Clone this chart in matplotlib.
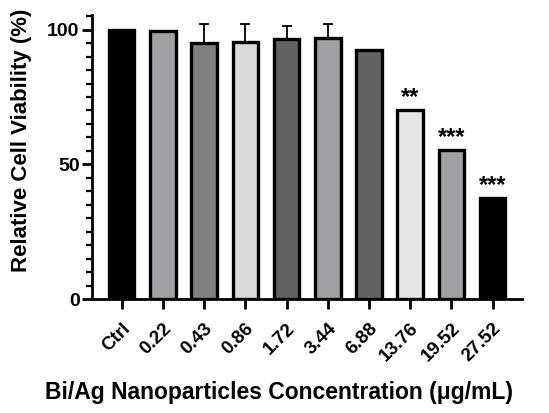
import matplotlib
matplotlib.use("Agg")
import matplotlib.pyplot as plt
from matplotlib.ticker import MultipleLocator

categories = ["Ctrl", "0.22", "0.43", "0.86", "1.72", "3.44", "6.88", "13.76", "19.52", "27.52"]
viability = [100.0, 99.5, 95.0, 95.5, 96.5, 96.9, 92.4, 70.3, 55.5, 37.5]
err_upper = [0, 0, 7.0, 6.5, 5.0, 5.3, 0, 0, 0, 0]
significance = ["", "", "", "", "", "", "", "**", "***", "***"]
fill_colors = ["#000000", "#a0a0a4", "#808080", "#d9d9d9", "#636363",
               "#a0a0a4", "#636363", "#e6e6e6", "#a0a0a4", "#000000"]

plt.rcParams['font.family'] = ['Liberation Sans', 'DejaVu Sans']
plt.rcParams['font.weight'] = 'bold'

fig = plt.figure(figsize=(5.49, 4.13), dpi=100)
ax = fig.add_axes([0.1676, 0.276, 0.783, 0.688])

x = list(range(len(categories)))
ax.bar(x, viability, width=0.62, color=fill_colors, edgecolor="black",
       linewidth=2.4, zorder=2)
ax.errorbar(x, viability, yerr=[[0] * len(x), err_upper], fmt="none",
            ecolor="black", elinewidth=1.3, capsize=3.4, capthick=1.3, zorder=1)
for xi, v, s in zip(x, viability, significance):
    if s:
        ax.text(xi, v + 0.2, s, ha="center", va="bottom", fontsize=17,
                fontweight="bold")

ax.set_xlim(-0.72, 9.71)
ax.set_ylim(0, 105.5)
ax.yaxis.set_major_locator(MultipleLocator(50))
ax.yaxis.set_minor_locator(MultipleLocator(5))
ax.set_xticks(x)
ax.set_xticklabels(categories, rotation=45, ha="right", rotation_mode="anchor",
                   fontsize=13.5, fontweight="bold")
for lab in ax.get_yticklabels():
    lab.set_fontsize(14)
    lab.set_fontweight("bold")

for side in ["top", "right"]:
    ax.spines[side].set_visible(False)
for side in ["left", "bottom"]:
    ax.spines[side].set_linewidth(2.0)
ax.tick_params(axis="both", which="major", length=7, width=2.0, pad=2)
ax.tick_params(axis="y", which="minor", length=4, width=1.6)
ax.tick_params(axis="x", which="major", length=7, pad=8)

ax.set_ylabel("Relative Cell Viability (%)", fontsize=16, fontweight="bold")
ax.yaxis.set_label_coords(-0.14, 0.56)
fig.text(279 / 549, 1 - 393 / 413, "Bi/Ag Nanoparticles Concentration (μg/mL)",
         ha="center", va="center", fontsize=16.5, fontweight="bold")

fig.savefig("out.png", dpi=100)
